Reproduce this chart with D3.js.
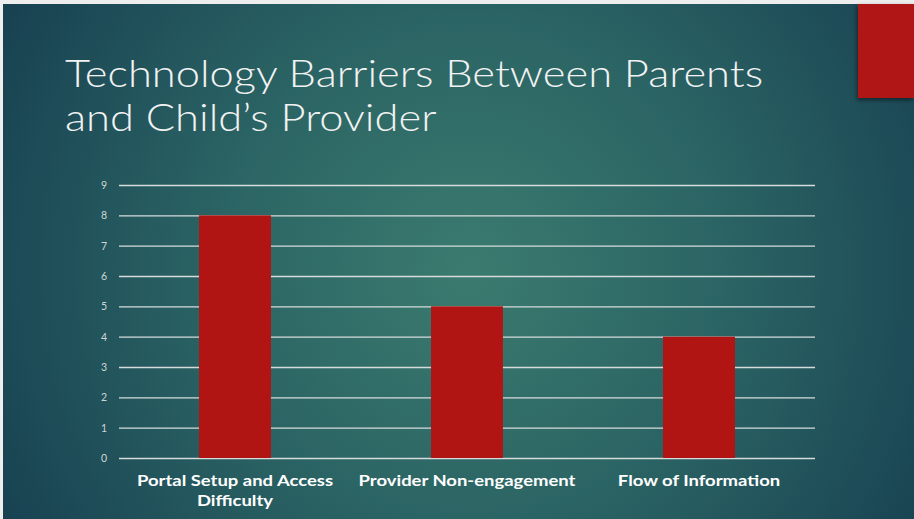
<!DOCTYPE html>
<html>
<head>
<meta charset="utf-8">
<script src="https://cdn.jsdelivr.net/npm/d3@7"></script>
<style>
  html, body { margin: 0; padding: 0; background: #eeeeee; }
  svg { display: block; }
</style>
</head>
<body>
<svg id="chart" width="914" height="519"></svg>
<script>
// Survey counts of technology barriers
const categories = [
  ["Portal Setup and Access", "Difficulty"],
  ["Provider Non-engagement"],
  ["Flow of Information"]
];
const values = [8, 5, 4];
const yTicks = [0, 1, 2, 3, 4, 5, 6, 7, 8, 9];
const titleLines = ["Technology Barriers Between Parents", "and Child\u2019s Provider"];

const W = 914, H = 519;
const svg = d3.select("#chart");
const defs = svg.append("defs");

// Widen text horizontally to approximate a broad geometric face
function widen(sel, factor) {
  sel.each(function() {
    const len = this.getComputedTextLength();
    d3.select(this).attr("textLength", len * factor).attr("lengthAdjust", "spacingAndGlyphs");
  });
}

// Slide background: teal radial glow
const grad = defs.append("radialGradient")
  .attr("id", "bg").attr("gradientUnits", "userSpaceOnUse")
  .attr("cx", 470).attr("cy", 270).attr("r", 560);
grad.append("stop").attr("offset", "0").attr("stop-color", "#3b7b6f");
grad.append("stop").attr("offset", "0.45").attr("stop-color", "#2b6464");
grad.append("stop").attr("offset", "1").attr("stop-color", "#163e50");

const shadow = defs.append("filter").attr("id", "shadow")
  .attr("x", "-30%").attr("y", "-30%").attr("width", "160%").attr("height", "160%");
shadow.append("feDropShadow").attr("dx", -1).attr("dy", 2).attr("stdDeviation", 2)
  .attr("flood-color", "#000").attr("flood-opacity", 0.5);

svg.append("rect").attr("x", 3).attr("y", 4).attr("width", W - 3).attr("height", H - 4)
  .attr("fill", "url(#bg)");

// Accent block in the corner
svg.append("rect").attr("x", 858).attr("y", 4).attr("width", 56).attr("height", 94)
  .attr("fill", "#b01716").attr("filter", "url(#shadow)");

// Title
const title = svg.append("text")
  .attr("fill", "#f2f2f2")
  .attr("font-family", "Lato, 'Noto Sans', sans-serif")
  .attr("font-weight", 300)
  .attr("font-size", 37);
const titleSpans = title.selectAll("text").data(titleLines).join("tspan")
  .attr("x", 65)
  .attr("y", (d, i) => 87 + i * 44)
  .text(d => d);
widen(titleSpans, 1.175);

// Plot area
const margin = { left: 119, right: 815, top: 185, bottom: 458 };
const x = d3.scaleBand()
  .domain(d3.range(categories.length))
  .range([margin.left, margin.right])
  .paddingInner(0.69)
  .paddingOuter(0.345);
const y = d3.scaleLinear().domain([0, 9]).range([margin.bottom, margin.top]);

// Gridlines and value labels
const yAxis = d3.axisLeft(y)
  .tickValues(yTicks)
  .tickSize(-(margin.right - margin.left))
  .tickPadding(12)
  .tickFormat(d3.format("d"));
const gy = svg.append("g")
  .attr("transform", `translate(${margin.left},0)`)
  .call(yAxis);
gy.select(".domain").remove();
gy.selectAll(".tick line").attr("stroke", "#d6dcdc").attr("stroke-width", 1.3);
gy.selectAll(".tick text")
  .attr("fill", "#d0d6d6")
  .attr("font-family", "Lato, 'Noto Sans', sans-serif")
  .attr("font-size", 10.5);

// Bars
svg.append("g").selectAll("rect").data(values).join("rect")
  .attr("x", (d, i) => x(i))
  .attr("width", x.bandwidth())
  .attr("y", d => y(d))
  .attr("height", d => y(0) - y(d))
  .attr("fill", "#b01513");

// Category labels
const catG = svg.append("g")
  .attr("fill", "#ffffff")
  .attr("font-family", "Lato, 'Noto Sans', sans-serif")
  .attr("font-weight", 700)
  .attr("font-size", 15.5)
  .attr("text-anchor", "middle");
categories.forEach((lines, i) => {
  const spans = catG.append("text").selectAll("tspan").data(lines).join("tspan")
    .attr("x", x(i) + x.bandwidth() / 2)
    .attr("y", (d, j) => 486 + j * 20)
    .text(d => d);
  widen(spans, 1.19);
});
</script>
</body>
</html>
